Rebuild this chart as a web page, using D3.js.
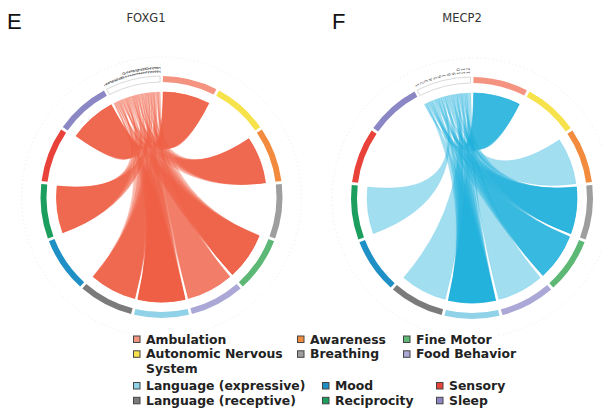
<!DOCTYPE html>
<html>
<head>
<meta charset="utf-8">
<script src="https://cdn.jsdelivr.net/npm/d3@7"></script>
<style>
  body { margin: 0; background: #fff; }
  svg { display: block; }
</style>
</head>
<body>
<svg id="chart" width="602" height="417"></svg>
<script>
// categories round the circle, clockwise from 12 o'clock
var categories = ["Ambulation", "Autonomic Nervous System", "Awareness", "Breathing", "Fine Motor",
    "Food Behavior", "Language (expressive)", "Language (receptive)", "Mood", "Reciprocity", "Sensory", "Sleep"];
var categoryColors = ["#f4937f", "#f6e24a", "#f28b3d", "#9e9e9e", "#5cb874", "#aba7d6",
    "#90d2e8", "#7b7b7b", "#1f90c6", "#1b9e5e", "#e8423b", "#8b87c5"];

// patients (the white segment at the top) and the categories each one links to
var foxg1Patients = ["1","2","3","4","5","6","7","8","9","10","11","12","13",
    "14","15","16","17","18","19","20","21","22","23","24","25"];
var foxg1Links = [[6,7],[0,6],[4,11],[6,9],[2,4],[11],[0,6],[7,9],[6,4],[2],[0,11],[6,5],[9,2],
    [4,7],[0],[6,2],[11],[7,6],[4,9],[0,2],[9,6],[5,11],[7],[4,5],[6]];

var mecp2Patients = ["1","2","3","4","5","6","7","8","9","10","11","12"];
var mecp2Links = [[0,6],[3,4],[6],[0,3,6],[4,9],[3,6],[0,4],[2,6],[3,7],[0,4,6],[3,5],[6]];

var charts = [
    {letter: "E", title: "FOXG1", patients: foxg1Patients, links: foxg1Links, color: "#ef5f46",
     cx: 161.5, cy: 197, letterX: 7, titleX: 146},
    {letter: "F", title: "MECP2", patients: mecp2Patients, links: mecp2Links, color: "#1fb0dc",
     cx: 472, cy: 198, letterX: 332, titleX: 462}
];

var attrs = {
    ringInner: 115,
    ringOuter: 121,
    ribbonRadius: 105,
    labelRadius: 124,
    guideRadius: 140,
    padDeg: 1.4,
    ribbonOpacity: 0.42
};

var svg = d3.select("#chart");
var nGroups = categories.length + 1;
var step = 2 * Math.PI / nGroups;
var pad = attrs.padDeg * Math.PI / 180;

// group k: 0..11 categories, 12 = patients
function groupAngles(k) {
    var s = k * step + pad / 2;
    return {startAngle: s, endAngle: s + step - pad};
}

var ringArc = d3.arc().innerRadius(attrs.ringInner).outerRadius(attrs.ringOuter);
var ribbon = d3.ribbon().radius(attrs.ribbonRadius);

charts.forEach(function(c) {
    svg.append("text")
        .attr("x", c.letterX).attr("y", 29)
        .attr("font-family", "Liberation Sans, Arial, sans-serif")
        .attr("font-size", 22).attr("fill", "#111")
        .text(c.letter);
    svg.append("text")
        .attr("x", c.titleX).attr("y", 22)
        .attr("text-anchor", "middle")
        .attr("font-family", "DejaVu Sans, sans-serif")
        .attr("font-size", 11.5).attr("fill", "#333")
        .text(c.title);

    var g = svg.append("g").attr("transform", "translate(" + c.cx + "," + c.cy + ")");

    g.append("circle")
        .attr("r", attrs.guideRadius)
        .attr("fill", "none")
        .attr("stroke", "#e4e4e4")
        .attr("stroke-width", 0.8)
        .attr("stroke-dasharray", "1,3");

    // category arcs
    g.selectAll(".cat").data(categories).enter().append("path")
        .attr("class", "cat")
        .attr("d", function(d, i) { return ringArc(groupAngles(i)); })
        .attr("fill", function(d, i) { return categoryColors[i]; });

    // patient segment
    var pg = groupAngles(categories.length);
    g.append("path")
        .attr("d", ringArc(pg))
        .attr("fill", "#fff")
        .attr("stroke", "#cfcfcf")
        .attr("stroke-width", 0.8);

    var pw = (pg.endAngle - pg.startAngle) / c.patients.length;

    // ribbons: patient slice -> whole category arc
    var ribbons = [];
    c.links.forEach(function(cats, p) {
        var a0 = pg.startAngle + p * pw;
        var lw = pw / cats.length;
        cats.forEach(function(cat, j) {
            var t = groupAngles(cat);
            ribbons.push({
                source: {startAngle: a0 + j * lw, endAngle: a0 + (j + 1) * lw},
                target: {startAngle: t.startAngle + 0.004, endAngle: t.endAngle - 0.004}
            });
        });
    });
    g.selectAll(".rib").data(ribbons).enter().append("path")
        .attr("class", "rib")
        .attr("d", ribbon)
        .attr("fill", c.color)
        .attr("fill-opacity", attrs.ribbonOpacity)
        .attr("stroke", c.color)
        .attr("stroke-opacity", 0.5)
        .attr("stroke-width", 0.3);

    // patient labels, radial
    g.selectAll(".plab").data(c.patients).enter().append("text")
        .attr("class", "plab")
        .attr("transform", function(d, i) {
            var a = (pg.startAngle + (i + 0.5) * pw) * 180 / Math.PI - 90;
            return "rotate(" + a + ") translate(" + attrs.labelRadius + ",0)";
        })
        .attr("dy", "0.35em")
        .attr("font-family", "DejaVu Sans, sans-serif")
        .attr("font-size", 4.6)
        .attr("letter-spacing", 0.6)
        .attr("fill", "#555")
        .text(function(d) { return d; });
});

// legend, two blocks of three columns
var legendBlocks = [
    {y: 343.5, cols: [133, 297, 403], items: [[0, 1], [2, 3], [4, 5]]},
    {y: 390, cols: [133, 322, 436], items: [[6, 7], [8, 9], [10, 11]]}
];
var rowGap = 14.8;
var legend = svg.append("g")
    .attr("font-family", "DejaVu Sans, sans-serif")
    .attr("font-weight", "bold")
    .attr("font-size", 12.4)
    .attr("fill", "#222");

legendBlocks.forEach(function(b) {
    b.items.forEach(function(col, ci) {
        col.forEach(function(k, ri) {
            var x = b.cols[ci], y = b.y + ri * rowGap;
            legend.append("rect")
                .attr("x", x + 0.5).attr("y", y - 7.5)
                .attr("width", 6.5).attr("height", 6.5)
                .attr("fill", categoryColors[k])
                .attr("stroke", "#444").attr("stroke-width", 1);
            var t = legend.append("text").attr("x", x + 13).attr("y", y);
            var name = categories[k];
            if (name === "Autonomic Nervous System") {
                t.append("tspan").text("Autonomic Nervous");
                t.append("tspan").attr("x", x + 13).attr("dy", rowGap).text("System");
            } else {
                t.text(name);
            }
        });
    });
});
</script>
</body>
</html>
